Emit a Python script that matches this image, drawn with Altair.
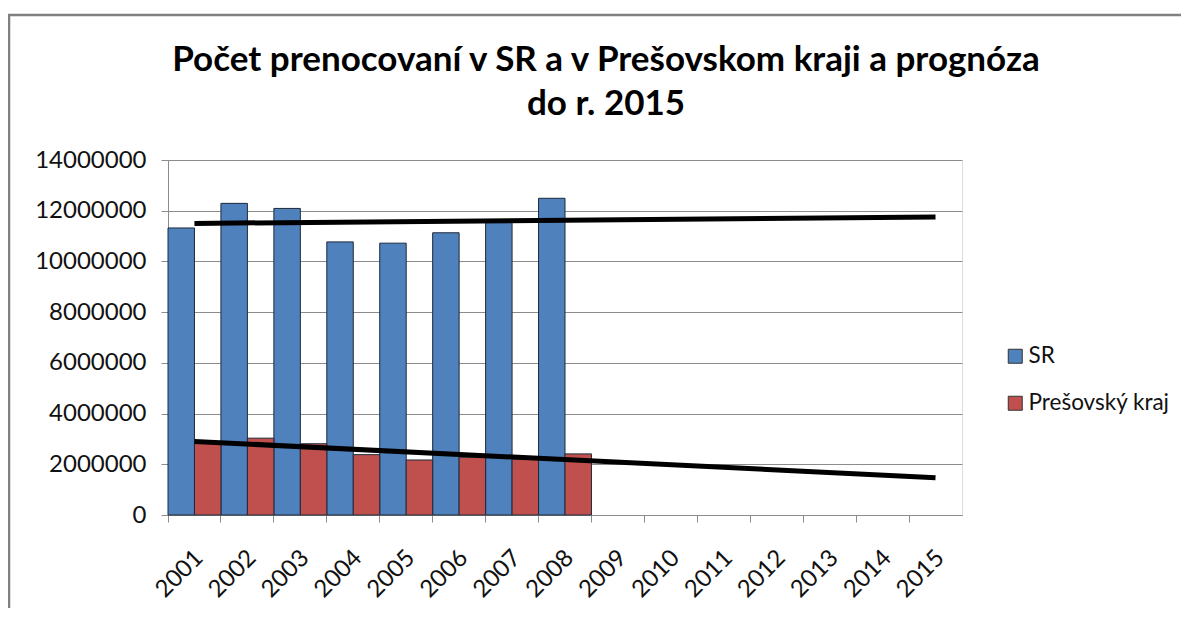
import altair as alt
import pandas as pd

# ---- data ----
years = ["2001", "2002", "2003", "2004", "2005", "2006", "2007", "2008",
         "2009", "2010", "2011", "2012", "2013", "2014", "2015"]
bar_years = ["2001", "2002", "2003", "2004", "2005", "2006", "2007", "2008"]
sr_values = [11320000, 12290000, 12090000, 10770000, 10720000, 11130000, 11630000, 12490000]
pk_values = [2870000, 3030000, 2810000, 2380000, 2170000, 2280000, 2210000, 2410000]
series_names = ["SR", "Prešovský kraj"]
series_colors = ["#4F81BD", "#C0504D"]
trend_years = ["2001", "2015"]
sr_trend = [11500000, 11750000]
pk_trend = [2900000, 1470000]
y_ticks = [0, 2000000, 4000000, 6000000, 8000000, 10000000, 12000000, 14000000]
title_lines = ["Počet prenocovaní v SR a v Prešovskom kraji a prognóza", "do r. 2015"]

FONT = "Lato"
GRID = "#8c8c8c"

bars_df = pd.DataFrame(
    [{"year": y, "series": series_names[0], "value": v} for y, v in zip(bar_years, sr_values)]
    + [{"year": y, "series": series_names[1], "value": v} for y, v in zip(bar_years, pk_values)]
)
trend_df = pd.DataFrame(
    [{"year": y, "trend": "SR", "value": v} for y, v in zip(trend_years, sr_trend)]
    + [{"year": y, "trend": "PK", "value": v} for y, v in zip(trend_years, pk_trend)]
)

x_scale = alt.Scale(domain=years, paddingInner=0, paddingOuter=0)
y_scale = alt.Scale(domain=[0, 14000000], nice=False)

x_axis = alt.Axis(
    title=None, labelAngle=-45, labelAlign="right", labelBaseline="middle",
    labelPadding=32, labelOffset=5, bandPosition=0, tickSize=7,
    tickColor=GRID, domainColor=GRID, grid=False,
    labelFont=FONT, labelFontSize=24, labelColor="#111111",
)
y_axis = alt.Axis(
    title=None, values=y_ticks, format="d", tickSize=7, tickColor=GRID,
    domainColor=GRID, gridColor=GRID, grid=True, labelPadding=15,
    labelFont=FONT, labelFontSize=24, labelColor="#111111",
)

bars = alt.Chart(bars_df).mark_bar(stroke="#1e2a3a", strokeWidth=1).encode(
    x=alt.X("year:N", scale=x_scale, axis=x_axis),
    xOffset=alt.XOffset("series:N", scale=alt.Scale(domain=series_names, paddingInner=0, paddingOuter=0)),
    y=alt.Y("value:Q", scale=y_scale, axis=y_axis),
    color=alt.Color(
        "series:N",
        scale=alt.Scale(domain=series_names, range=series_colors),
        legend=alt.Legend(
            title=None, orient="none", legendX=836, legendY=185,
            symbolType="square", symbolSize=196, symbolStrokeColor="#333333",
            symbolStrokeWidth=1, labelFont=FONT, labelFontSize=22.5,
            labelColor="#111111", rowPadding=24, labelOffset=2,
        ),
    ),
)

trends = alt.Chart(trend_df).mark_line(color="black", strokeWidth=5).encode(
    x=alt.X("year:N", scale=x_scale),
    y=alt.Y("value:Q", scale=y_scale),
    detail="trend:N",
)

frame = alt.Chart(pd.DataFrame({"k": [0]})).mark_rect(
    filled=False, stroke="#808080", strokeWidth=2.5
).encode(
    x=alt.value(-159), x2=alt.value(1300), y=alt.value(-145), y2=alt.value(900)
)

chart = alt.layer(frame, bars, trends).properties(
    width=794,
    height=355,
    title=alt.TitleParams(
        text=title_lines, font=FONT, fontSize=35, fontWeight="bold",
        color="black", anchor="middle", frame="group", dx=41, offset=0,
        dy=108, lineHeight=44,
    ),
    autosize=alt.AutoSizeParams(type="none"),
    padding={"left": 160, "top": 152, "right": 219, "bottom": 93},
).configure_view(stroke=None).configure(background="white")

chart.save("out.html", embed_options={"renderer": "svg", "actions": False})
